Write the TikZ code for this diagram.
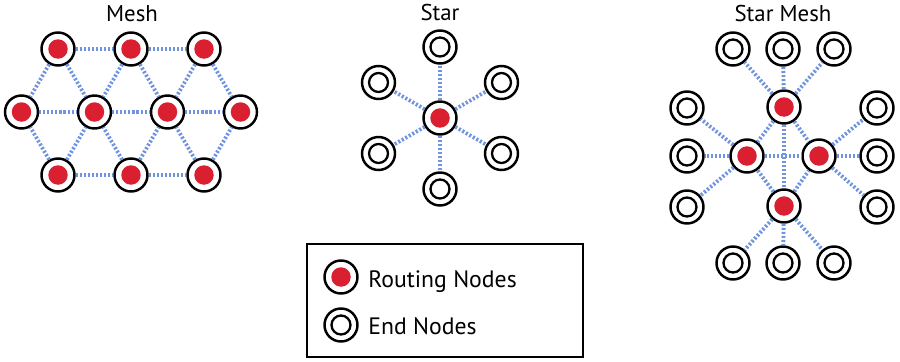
\documentclass[tikz,border=0pt]{standalone}
\usepackage{fontspec}
\setmainfont{PT Sans}
\usetikzlibrary{positioning,calc}
\definecolor{rojo}{RGB}{218,32,48}
\definecolor{azul}{RGB}{112,148,222}

\begin{document}
\begin{tikzpicture}[x=0.02cm, y=-0.02cm,
  nodo/.style={circle, draw=black, line width=1.4pt, fill=white,
    minimum size=0.66cm, inner sep=0pt},
  router/.style={nodo, path picture={\fill[rojo]
    (path picture bounding box.center) circle (0.195cm);}},
  leaf/.style={nodo, path picture={\draw[line width=1.3pt]
    (path picture bounding box.center) circle (0.19cm);}},
  link/.style={draw=azul, line width=2.2pt, dash pattern=on 1.2pt off 1.1pt},
  heading/.style={font=\fontsize{13}{15}\selectfont, anchor=base},
  legtext/.style={font=\fontsize{13.5}{15}\selectfont, anchor=base west, inner sep=0pt},
]
\useasboundingbox (0,0) rectangle (900,362);

\node[heading] (tmesh) at (132,21) {Mesh};
\foreach \c in {1,2,3} {
  \node[router] (m-1-\c) at (58+73*\c-73, 49) {};
  \node[router] (m-3-\c) at (58+73*\c-73, 175) {};
}
\foreach \c in {1,...,4}
  \node[router] (m-2-\c) at (21.5+73*\c-73, 112) {};
\foreach \c [count=\n from 2] in {1,2} {
  \draw[link] (m-1-\c) -- (m-1-\n);
  \draw[link] (m-3-\c) -- (m-3-\n);
}
\foreach \c [count=\n from 2] in {1,2,3} {
  \draw[link] (m-2-\c) -- (m-2-\n);
  \draw[link] (m-1-\c) -- (m-2-\c);
  \draw[link] (m-1-\c) -- (m-2-\n);
  \draw[link] (m-3-\c) -- (m-2-\c);
  \draw[link] (m-3-\c) -- (m-2-\n);
}

\node[heading] (tstar) at (440,20) {Star};
\node[router] (s0) at (440,118) {};
\foreach \a [count=\i] in {90,30,330,270,210,150} {
  \node[leaf] (s\i) at ($(s0)+(\a:71)$) {};
  \draw[link] (s0) -- (s\i);
}

\node[heading] (tsm) at (783,21) {Star Mesh};
\node[router] (sm-t) at (784,107) {};
\node[router] (sm-l) at (747,156) {};
\node[router] (sm-r) at (819,156) {};
\node[router] (sm-b) at (784,206) {};
\foreach \k/\x in {1/733,2/783,3/834} {
  \node[leaf] (up\k) at (\x,49) {};
  \node[leaf] (dn\k) at (\x,263) {};
  \draw[link] (sm-t) -- (up\k);
  \draw[link] (sm-b) -- (dn\k);
}
\foreach \k/\y in {1/108,2/156,3/207} {
  \node[leaf] (lf\k) at (687,\y) {};
  \node[leaf] (rt\k) at (877,\y) {};
  \draw[link] (sm-l) -- (lf\k);
  \draw[link] (sm-r) -- (rt\k);
}
\draw[link] (sm-t) -- (sm-b);
\draw[link] (sm-l) -- (sm-r);
\draw[link] (sm-t) -- (sm-l);
\draw[link] (sm-t) -- (sm-r);
\draw[link] (sm-b) -- (sm-l);
\draw[link] (sm-b) -- (sm-r);

\draw[line width=1.2pt] (307,244) rectangle (583,357);
\node[router] (lr) at (341,277) {};
\node[leaf] (le) at (341,325) {};
\node[legtext] (txr) at (368,287) {Routing Nodes};
\node[legtext] (txe) at (368,334) {End Nodes};
\end{tikzpicture}
\end{document}
